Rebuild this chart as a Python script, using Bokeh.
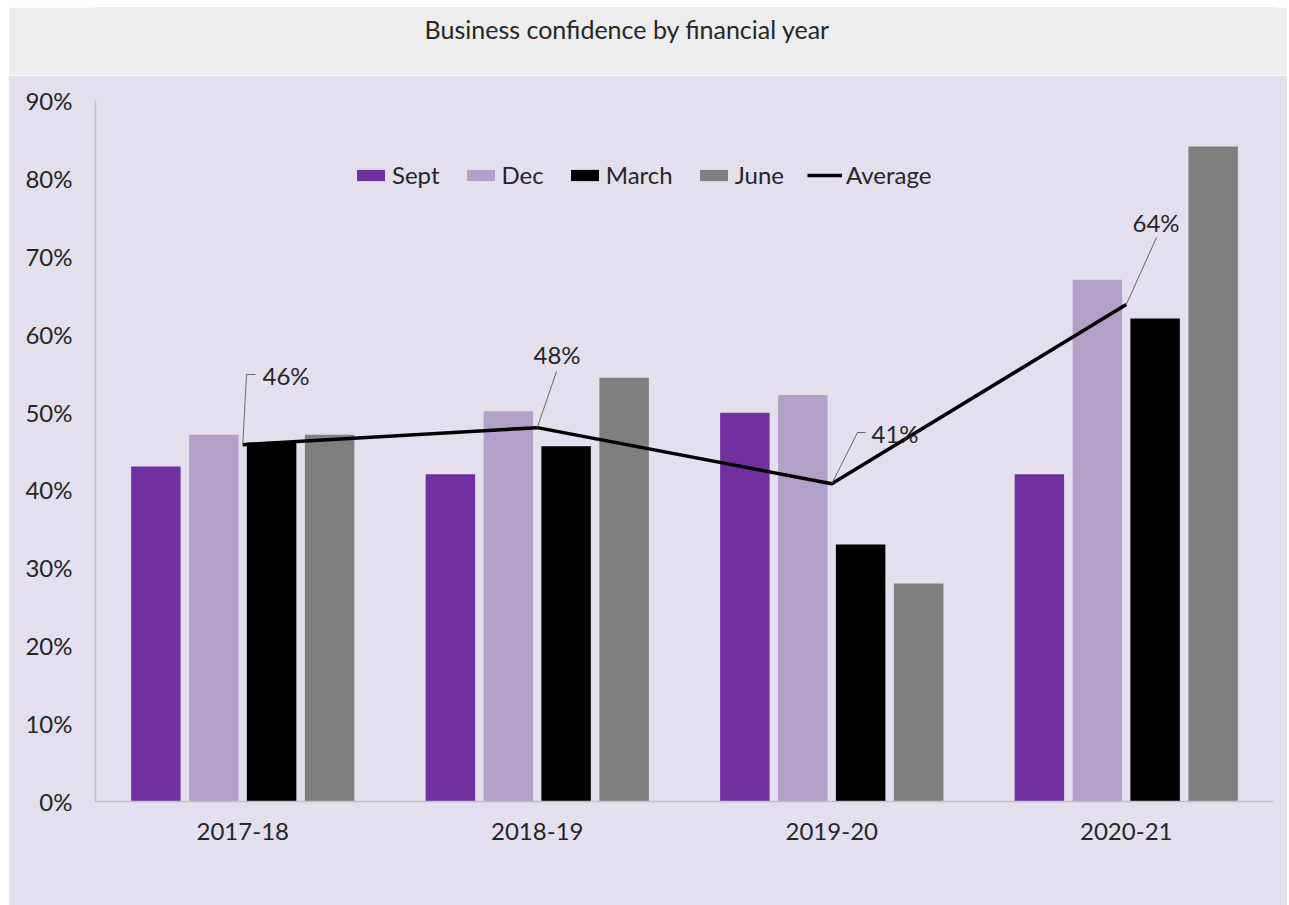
import numpy as np
from bokeh.plotting import figure
from bokeh.models import Range1d, FixedTicker, PrintfTickFormatter, Legend, LegendItem
from bokeh.layouts import column
from bokeh.embed import file_html
from bokeh.resources import INLINE
from bokeh.core.properties import value

# ---------------- data ----------------
years = ["2017-18", "2018-19", "2019-20", "2020-21"]
sept = [43.0, 42.0, 49.9, 42.0]
dec = [47.1, 50.1, 52.2, 67.0]
march = [46.1, 45.6, 33.0, 62.0]
june = [47.1, 54.4, 28.0, 84.1]
average = [45.8, 48.0, 40.8, 63.8]
avg_labels = ["46%", "48%", "41%", "64%"]
y_ticks = [0, 10, 20, 30, 40, 50, 60, 70, 80, 90]
series_names = ["Sept", "Dec", "March", "June"]
title_text = "Business confidence by financial year"

# ---------------- style ----------------
FONT = "Lato"
LAV = "#E4DFEC"
GRAY = "#ECEDEC"
AXIS = "#BFBFBF"
TXT = "#262626"
colors = ["#7030A0", "#B1A0C7", "#000000", "#7F7F7F"]

W = 1279
TITLE_H = 68
MAIN_H = 830
BL, BT, BB = 87, 25, 104
FRAME_W = 1178
BR = W - BL - FRAME_W
FRAME_H = MAIN_H - BT - BB

# ---------------- title band ----------------
t = figure(width=W, height=TITLE_H, x_range=Range1d(0, 1), y_range=Range1d(0, 1),
           output_backend="svg", toolbar_location=None,
           min_border_left=BL, min_border_right=BR, min_border_top=0, min_border_bottom=0,
           x_axis_type=None, y_axis_type=None)
t.grid.visible = False
t.outline_line_color = GRAY
t.outline_line_width = 2
t.background_fill_color = GRAY
t.border_fill_color = GRAY
t.text(x=[(619 - BL) / FRAME_W], y=[1 - 21 / TITLE_H], text=[title_text], text_align="center",
       text_baseline="middle", text_font=value(FONT), text_font_size="25px",
       text_color=TXT)

# ---------------- main chart ----------------
p = figure(width=W, height=MAIN_H, x_range=Range1d(-0.5, 3.5), y_range=Range1d(0, 90),
           output_backend="svg", toolbar_location=None,
           min_border_left=BL, min_border_right=BR, min_border_top=BT, min_border_bottom=BB)
p.background_fill_color = LAV
p.border_fill_color = LAV
p.outline_line_color = LAV
p.outline_line_width = 2
p.grid.visible = False

xc = np.arange(len(years))
offsets = [-0.295, -0.098, 0.098, 0.295]
bar_w = 0.168
renderers = []
for vals, off, col in zip([sept, dec, march, june], offsets, colors):
    r = p.vbar(x=xc + off, top=vals, width=bar_w, fill_color=col, line_color=None)
    renderers.append(r)

r_avg = p.line(x=xc, y=average, line_color="black", line_width=3.5)

# data labels with leader lines (offsets in pixels)
px_x = FRAME_W / 4.0
px_y = FRAME_H / 90.0
leader_dx = [[0, 3.75, 12.75], [0, 19.25], [0, 25.75, 33.75], [0, 30.25]]
leader_up = [[0, 70.3, 70.3], [0, 56.1], [0, 51.2, 51.2], [0, 67.0]]
lxs, lys = [], []
for i in range(len(years)):
    lxs.append([xc[i] + d / px_x for d in leader_dx[i]])
    lys.append([average[i] + u / px_y for u in leader_up[i]])
p.multi_line(xs=lxs, ys=lys, line_color="#666666", line_width=1)

lab_dx = [19.75, -3.75, 39.75, 6.25]
lab_up = [69.3, 73.1, 50.2, 82.0]
p.text(x=[xc[i] + lab_dx[i] / px_x for i in range(4)],
       y=[average[i] + lab_up[i] / px_y for i in range(4)],
       text=avg_labels, text_align="left", text_baseline="middle",
       text_font=value(FONT), text_font_size="24px", text_color=TXT)

# axes
for ax in (p.xaxis[0], p.yaxis[0]):
    ax.axis_line_color = AXIS
    ax.axis_line_width = 1.5
    ax.major_tick_line_color = None
    ax.minor_tick_line_color = None
    ax.major_label_text_font = FONT
    ax.major_label_text_font_size = "24px"
    ax.major_label_text_color = TXT

p.xaxis.ticker = FixedTicker(ticks=list(range(len(years))))
p.xaxis.major_label_overrides = {i: y for i, y in enumerate(years)}
p.xaxis.major_label_standoff = 15
p.yaxis.ticker = FixedTicker(ticks=y_ticks)
p.yaxis.formatter = PrintfTickFormatter(format="%d%%")
p.yaxis.major_label_standoff = 17

items = [LegendItem(label=n, renderers=[r]) for n, r in zip(series_names, renderers)]
items.append(LegendItem(label="Average", renderers=[r_avg]))
legend = Legend(items=items, orientation="horizontal", location=(258, 612),
                padding=0, margin=0, spacing=23, glyph_width=35, glyph_height=14,
                label_standoff=4, border_line_color=None, background_fill_alpha=0,
                label_text_font=FONT, label_text_font_size="24px", label_text_color=TXT)
p.add_layout(legend, "center")

layout = column(t, p, spacing=0, margin=(7, 0, 0, 8))
open("out.html", "w").write(file_html(layout, INLINE))
